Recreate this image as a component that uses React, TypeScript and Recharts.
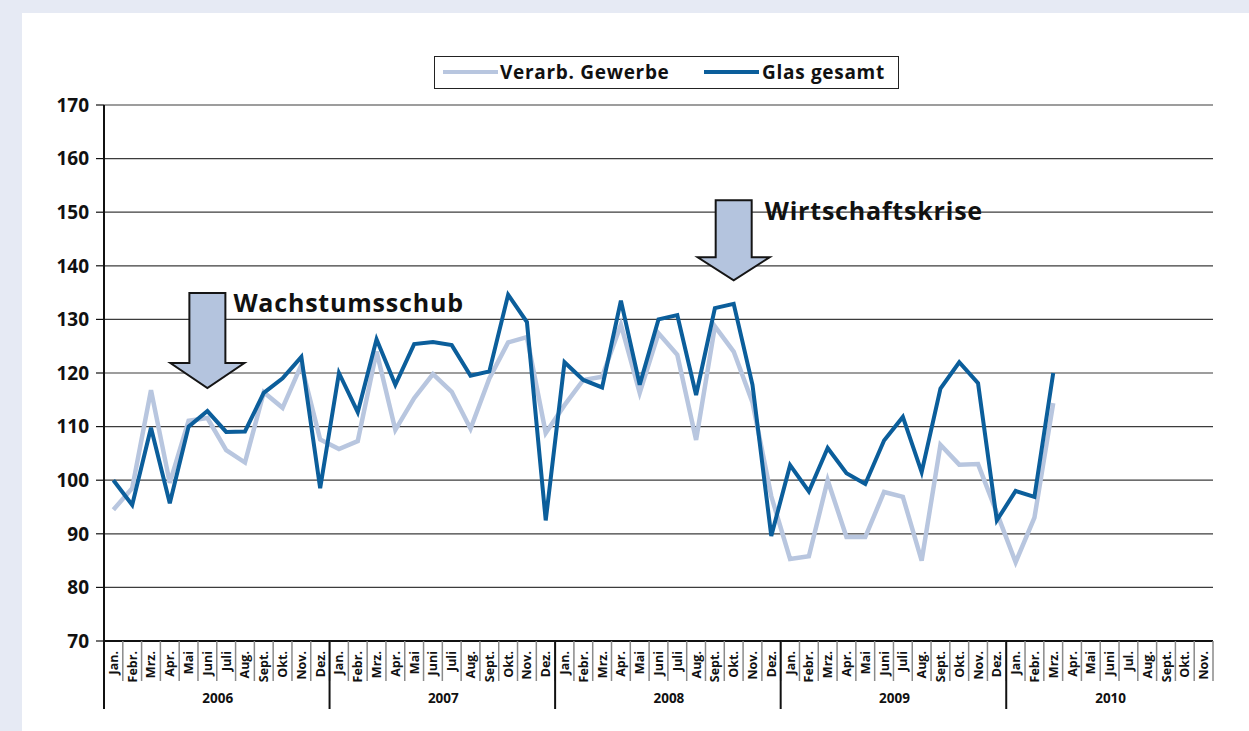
import React from 'react';
import { LineChart, Line, XAxis, YAxis, CartesianGrid, ReferenceDot, Legend } from 'recharts';

const MONTHS_STD = ['Jan.', 'Febr.', 'Mrz.', 'Apr.', 'Mai', 'Juni', 'Juli', 'Aug.', 'Sept.', 'Okt.', 'Nov.', 'Dez.'];
const MONTHS_2010 = ['Jan.', 'Febr.', 'Mrz.', 'Apr.', 'Mai', 'Juni', 'Jul.', 'Aug.', 'Sept.', 'Okt.', 'Nov.'];
const YEARS = ['2006', '2007', '2008', '2009', '2010'];
const MONTH_LABELS = [...MONTHS_STD, ...MONTHS_STD, ...MONTHS_STD, ...MONTHS_STD, ...MONTHS_2010];

const VERARB: (number | null)[] = [
  94.5, 98.5, 116.8, 99.5, 111.1, 111.6, 105.6, 103.3, 116.4, 113.5, 121.5, 107.6,
  105.8, 107.3, 124, 109.4, 115.3, 119.8, 116.5, 109.6, 119, 125.7, 126.7, 108.8,
  114, 118.7, 119.3, 129, 116.3, 127.4, 123.4, 107.5, 128.7, 124, 114.5, 97,
  85.3, 85.8, 100, 89.4, 89.4, 97.8, 96.9, 85, 106.6, 102.9, 103, 93.9,
  84.7, 93, 114.4, null, null, null, null, null, null, null, null,
];

const GLAS: (number | null)[] = [
  100, 95.4, 109.8, 95.7, 110, 112.9, 109, 109.1, 116.3, 119, 123, 98.5,
  120, 112.7, 126.3, 117.8, 125.4, 125.8, 125.2, 119.5, 120.3, 134.6, 129.5, 92.5,
  122, 118.7, 117.3, 133.5, 117.8, 130, 130.8, 115.9, 132.1, 132.9, 117.8, 89.6,
  102.8, 97.9, 106, 101.3, 99.3, 107.4, 111.8, 101.5, 117.1, 122, 118.1, 92.5,
  98, 96.9, 120, null, null, null, null, null, null, null, null,
];

const Y_TICKS = [70, 80, 90, 100, 110, 120, 130, 140, 150, 160, 170];

const ANNOTATIONS = [
  { label: 'Wachstumsschub', monthIndex: 5, value: 117.2, shaft: 70, head: 25, headHalf: 37, textDx: 26, textDy: -76 },
  { label: 'Wirtschaftskrise', monthIndex: 33, value: 137.3, shaft: 57, head: 23, headHalf: 36, textDx: 31, textDy: -60 },
];

const N = MONTH_LABELS.length;
const data = MONTH_LABELS.map((m, i) => ({
  x: i + 0.5,
  month: m,
  verarb: VERARB[i],
  glas: GLAS[i],
}));

// layout constants
const W = 1249;
const H = 731;
const PLOT_L = 104;
const PLOT_R = 1213;
const PLOT_T = 105;
const PLOT_B = 641;
const BW = (PLOT_R - PLOT_L) / N;
const Y_W = 80;
const X_H = 70;

const FONT = '"Open Sans", "Noto Sans", sans-serif';
const LIGHT = '#b8c6df';
const DARK = '#0b5e9b';

const yearStart: number[] = [];
const yearCount: number[] = [];
{
  let s = 0;
  [12, 12, 12, 12, 11].forEach((c) => {
    yearStart.push(s);
    yearCount.push(c);
    s += c;
  });
}

const XTick = (props: any) => {
  const { x, y, index } = props;
  const left = x - BW / 2;
  const yi = yearStart.indexOf(index);
  return (
    <g>
      <line x1={left} y1={y} x2={left} y2={y + 40} stroke="#8a8a8a" strokeWidth={1.5} />
      {index === N - 1 && (
        <line x1={x + BW / 2} y1={y} x2={x + BW / 2} y2={y + 40} stroke="#8a8a8a" strokeWidth={1.5} />
      )}
      <text
        transform={`translate(${x + 4.5},${y + 10}) rotate(-90)`}
        textAnchor="end"
        fontFamily={FONT}
        fontWeight={700}
        fontSize={12.5}
        fill="#111"
      >
        {MONTH_LABELS[index]}
      </text>
      {yi >= 0 && (
        <g>
          <line x1={left} y1={y} x2={left} y2={y + 68} stroke="#111" strokeWidth={2} />
          <text
            x={left + (yearCount[yi] * BW) / 2 + 1}
            y={y + 62}
            textAnchor="middle"
            fontFamily={FONT}
            fontWeight={700}
            fontSize={13.5}
            fill="#111"
          >
            {YEARS[yi]}
          </text>
        </g>
      )}
    </g>
  );
};

const makeArrow = (a: typeof ANNOTATIONS[number]) => (props: any) => {
  const { cx, cy } = props;
  const sw = 18;
  const top = cy - a.head - a.shaft;
  const neck = cy - a.head;
  const d = `M${cx - sw},${top} L${cx + sw},${top} L${cx + sw},${neck} L${cx + a.headHalf},${neck} L${cx},${cy} L${cx - a.headHalf},${neck} L${cx - sw},${neck} Z`;
  return (
    <g>
      <path d={d} fill="#b4c4de" stroke="#151515" strokeWidth={2} strokeLinejoin="miter" />
      <text
        x={cx + a.textDx}
        y={cy + a.textDy}
        fontFamily={FONT}
        fontWeight={700}
        fontSize={25}
        letterSpacing={0.8}
        fill="#111"
      >
        {a.label}
      </text>
    </g>
  );
};

const LegendContent = () => (
  <div
    style={{
      width: 465,
      height: 33,
      border: '1px solid #222',
      background: '#fff',
      fontFamily: FONT,
      fontWeight: 700,
      fontSize: 19,
      letterSpacing: 0.7,
      color: '#111',
      boxSizing: 'border-box',
      position: 'relative',
    }}
  >
    <div style={{ position: 'absolute', left: 8, top: 13, width: 55, height: 4, background: LIGHT }} />
    <div style={{ position: 'absolute', left: 65, top: 2, lineHeight: '26px', whiteSpace: 'nowrap' }}>Verarb. Gewerbe</div>
    <div style={{ position: 'absolute', left: 269, top: 13, width: 55, height: 4, background: DARK }} />
    <div style={{ position: 'absolute', left: 327, top: 2, lineHeight: '26px', whiteSpace: 'nowrap' }}>Glas gesamt</div>
  </div>
);

export default function App() {
  return (
    <div style={{ position: 'absolute', left: 0, top: 0, width: W, height: H, background: '#e6eaf4', overflow: 'hidden' }}>
      <div style={{ position: 'absolute', left: 22, top: 13, width: W - 22, height: H - 13, background: '#fff' }} />
      <div style={{ position: 'absolute', left: 0, top: 0 }}>
        <LineChart
          width={W}
          height={H}
          data={data}
          margin={{ top: PLOT_T, right: W - PLOT_R, bottom: H - PLOT_B - X_H, left: PLOT_L - Y_W }}
        >
          <CartesianGrid horizontal vertical={false} stroke="#3c3c3c" strokeWidth={1.2} />
          <XAxis
            dataKey="x"
            type="number"
            domain={[0, N]}
            ticks={data.map((d) => d.x)}
            interval={0}
            height={X_H}
            tickLine={false}
            tickSize={0}
            tickMargin={0}
            axisLine={{ stroke: '#111', strokeWidth: 2 }}
            tick={<XTick />}
            allowDataOverflow
          />
          <YAxis
            type="number"
            domain={[70, 170]}
            ticks={Y_TICKS}
            interval={0}
            width={Y_W}
            tickSize={8}
            tickMargin={7}
            tickLine={{ stroke: '#111', strokeWidth: 1.2 }}
            axisLine={{ stroke: '#111', strokeWidth: 2 }}
            tick={{ fontFamily: FONT, fontWeight: 700, fontSize: 19, fill: '#111' }}
          />
          <Legend
            layout="horizontal"
            verticalAlign="middle"
            align="center"
            content={<LegendContent />}
            wrapperStyle={{ left: 434, top: 56, width: 465, height: 33 }}
          />
          <Line
            type="linear"
            dataKey="verarb"
            name="Verarb. Gewerbe"
            stroke={LIGHT}
            strokeWidth={4.5}
            dot={false}
            activeDot={false}
            isAnimationActive={false}
          />
          <Line
            type="linear"
            dataKey="glas"
            name="Glas gesamt"
            stroke={DARK}
            strokeWidth={4}
            dot={false}
            activeDot={false}
            isAnimationActive={false}
          />
          {ANNOTATIONS.map((a) => (
            <ReferenceDot
              key={a.label}
              x={a.monthIndex + 0.5}
              y={a.value}
              r={0}
              ifOverflow="visible"
              shape={makeArrow(a)}
            />
          ))}
        </LineChart>
      </div>
    </div>
  );
}
